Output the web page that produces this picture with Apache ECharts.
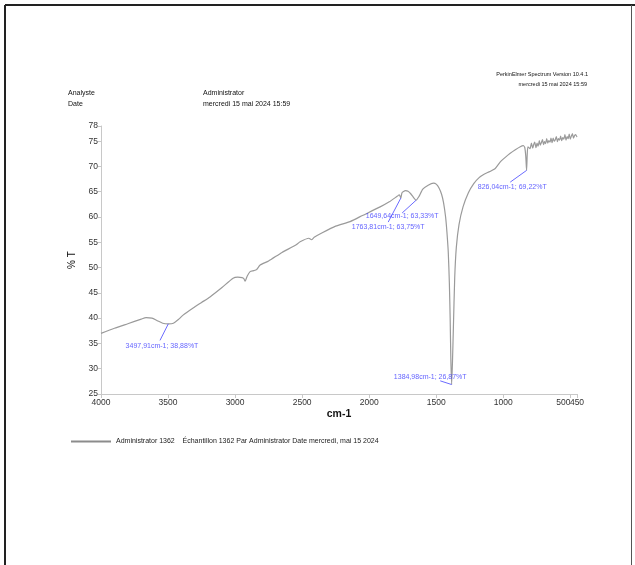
<!DOCTYPE html>
<html>
<head>
<meta charset="utf-8">
<title>Spectre IR</title>
<script src="https://cdn.jsdelivr.net/npm/echarts@6/dist/echarts.min.js"></script>
<style>
  html, body { margin: 0; padding: 0; background: #fff; }
  #chart { width: 635px; height: 565px; }
</style>
</head>
<body>
<div id="chart"></div>
<script>
// Wavenumber (cm-1) and transmittance (%T) of the recorded spectrum
const wavenumbers = [
  4000, 3900, 3800, 3700, 3664, 3620, 3580, 3540, 3497.91, 3460, 3420, 3388, 3313, 3250, 3187,
  3100, 3015, 2980, 2948, 2935, 2925, 2910, 2888, 2860, 2840, 2813, 2750, 2650, 2550, 2515,
  2450, 2430, 2410, 2350, 2250, 2142, 2050, 1918, 1850, 1791, 1775, 1763.81, 1755, 1730, 1710,
  1690, 1670, 1649.64, 1630, 1600, 1560, 1520, 1500, 1480, 1460, 1445, 1430, 1420, 1410, 1402,
  1396, 1391, 1384.98, 1378, 1372, 1362, 1350, 1330, 1300, 1260, 1220, 1180, 1140, 1100, 1060,
  1022, 985, 948, 910, 873, 851, 840, 832, 826.04, 821, 816, 800, 790, 780, 772,
  765, 756, 748, 740, 731, 724, 716, 707, 700, 692, 684, 676, 668, 660, 651,
  644, 636, 628, 620, 612, 604, 596, 588, 580, 572, 564, 556, 548, 540, 532,
  524, 516, 508, 500, 492, 484, 476, 468, 460, 450
];
const transmittance = [
  37.0, 38.0, 38.9, 39.8, 40.1, 40.0, 39.5, 39.0, 38.88, 39.0, 39.8, 40.6, 42.0, 43.1, 44.2,
  46.0, 47.9, 48.1, 48.0, 47.8, 47.3, 48.3, 49.2, 49.4, 49.6, 50.5, 51.3, 53.0, 54.4, 55.1,
  55.8, 55.5, 56.0, 56.9, 58.2, 59.1, 60.3, 62.0, 63.0, 64.1, 64.4, 63.75, 64.8, 65.2, 65.1,
  64.6, 63.9, 63.33, 64.0, 65.5, 66.3, 66.7, 66.5, 65.8, 64.5, 62.8, 60.0, 57.0, 53.0, 47.0,
  40.0, 32.0, 26.87, 32.0, 38.0, 48.0, 54.0, 58.5, 62.0, 64.8, 66.6, 67.8, 68.5, 69.0, 69.6,
  70.9, 71.8, 72.6, 73.3, 73.9, 74.1, 73.8, 72.0, 69.22, 72.5, 73.9, 73.5, 74.6, 73.6, 74.4,
  74.8, 73.7, 74.6, 74.0, 75.1, 74.2, 74.7, 75.3, 74.3, 74.9, 74.5, 75.5, 74.6, 75.1, 74.8,
  75.6, 74.7, 75.6, 75.0, 75.3, 75.9, 74.9, 75.5, 75.2, 76.0, 75.1, 75.7, 75.4, 76.3, 75.2,
  75.9, 75.5, 76.4, 75.4, 76.0, 76.5, 75.6, 76.1, 76.3, 75.8
];

// Axis tick labels
const xTicks = [4000, 3500, 3000, 2500, 2000, 1500, 1000, 500, 450];
const yTicks = [25, 30, 35, 40, 45, 50, 55, 60, 65, 70, 75, 78];

// Labelled peaks: position (cm-1), value (%T) and label text
const peakWavenumbers = [3497.91, 1763.81, 1649.64, 1384.98, 826.04];
const peakValues = [38.88, 63.75, 63.33, 26.87, 69.22];
const peakTexts = [
  '3497,91cm-1; 38,88%T',
  '1763,81cm-1; 63,75%T',
  '1649,64cm-1; 63,33%T',
  '1384,98cm-1; 26,87%T',
  '826,04cm-1; 69,22%T'
];
// Where each leader line ends (in axis units) and how its text sits there
const calloutEnds = [[3560, 35.6], [1858, 59.0], [1754, 60.8], [1470, 27.6], [948, 66.9]];
const calloutLabelStyle = [
  { position: 'bottom', distance: 2, offset: [2, 0] },
  { position: 'bottom', distance: 1, offset: [0, 0] },
  { position: 'bottom', distance: 0, offset: [0, 0] },
  { position: 'top', distance: 0, offset: [-10, 0] },
  { position: 'bottom', distance: 1, offset: [2, 0] }
];

const sans = '"Liberation Sans", Arial, sans-serif';
const blue = '#3a3aff';
const tickColor = '#c8c8c8';
const labelColor = '#333';

const spectrum = wavenumbers.map((w, i) => [w, transmittance[i]]);

// leader lines from each peak to its text
const leaderSeries = peakWavenumbers.map((w, i) => ({
  type: 'line',
  silent: true,
  symbol: 'none',
  z: 5,
  lineStyle: { color: '#6b6bff', width: 1 },
  data: [[w, peakValues[i]], calloutEnds[i]]
}));

// peak texts, placed at the free end of each leader line
const calloutTextSeries = {
  type: 'scatter',
  silent: true,
  symbolSize: 0,
  z: 6,
  data: calloutEnds.map((end, i) => ({
    value: end,
    label: Object.assign({
      show: true,
      formatter: peakTexts[i],
      color: blue,
      fontSize: 7,
      fontFamily: sans
    }, calloutLabelStyle[i])
  }))
};

const legendName = 'Administrator 1362    Échantillon 1362 Par Administrator Date mercredi, mai 15 2024';

// the last tick (450) sits right next to 500, so it is labelled on its own axis
const mainXLabels = xTicks.slice(0, -1);
const endXLabels = xTicks.slice(-1);

const chart = echarts.init(document.getElementById('chart'), null, { renderer: 'canvas' });

chart.setOption({
  animation: false,
  backgroundColor: '#ffffff',
  grid: { left: 101, right: 58, top: 126, bottom: 171, containLabel: false },
  legend: {
    left: 66,
    top: 433,
    itemWidth: 40,
    itemHeight: 10,
    itemGap: 6,
    textStyle: { fontSize: 7, fontFamily: sans, color: '#222' },
    data: [{ name: legendName, icon: 'path://M0,4 L38,4 L38,6 L0,6 Z' }]
  },
  xAxis: [
    {
      type: 'value',
      inverse: true,
      min: 450,
      max: 4000,
      name: 'cm-1',
      nameLocation: 'middle',
      nameGap: 15,
      nameTextStyle: { fontSize: 10.5, fontWeight: 'bold', fontFamily: sans, color: '#111' },
      axisLine: { show: true, lineStyle: { color: tickColor, width: 1 } },
      axisTick: { show: true, length: 4, customValues: xTicks, lineStyle: { color: tickColor } },
      axisLabel: {
        customValues: mainXLabels,
        hideOverlap: false,
        fontSize: 8.5,
        fontFamily: sans,
        color: labelColor,
        margin: 4,
        formatter: function (v) {
          return v === 500 ? '{l|500}' : String(v);
        },
        rich: {
          l: { fontSize: 8.5, fontFamily: sans, color: labelColor, padding: [0, 14, 0, 0] }
        }
      },
      splitLine: { show: false }
    },
    {
      type: 'value',
      inverse: true,
      min: 450,
      max: 4000,
      position: 'bottom',
      axisLine: { show: false },
      axisTick: { show: false },
      axisLabel: {
        customValues: endXLabels,
        showMinLabel: true,
        fontSize: 8.5,
        fontFamily: sans,
        color: labelColor,
        margin: 4,
        formatter: function (v) { return String(v); }
      },
      splitLine: { show: false }
    }
  ],
  yAxis: {
    type: 'value',
    min: 25,
    max: 78,
    name: '% T',
    nameLocation: 'middle',
    nameGap: 23,
    nameRotate: 90,
    nameTextStyle: { fontSize: 10, fontFamily: sans, color: '#111' },
    axisLine: { show: true, lineStyle: { color: tickColor, width: 1 } },
    axisTick: { show: true, length: 3, customValues: yTicks, lineStyle: { color: tickColor } },
    axisLabel: {
      customValues: yTicks,
      formatter: function (v) { return String(v); },
      fontSize: 8.5,
      fontFamily: sans,
      color: labelColor,
      margin: 3
    },
    splitLine: { show: false }
  },
  series: [
    {
      name: legendName,
      type: 'line',
      symbol: 'none',
      smooth: 0.2,
      z: 3,
      color: '#8c8c8c',
      lineStyle: { color: '#9a9a9a', width: 1.2 },
      data: spectrum
    },
    calloutTextSeries
  ].concat(leaderSeries),
  graphic: [
    // page frame
    { type: 'line', shape: { x1: 5, y1: 5, x2: 635, y2: 5 }, style: { stroke: '#222', lineWidth: 2 } },
    { type: 'line', shape: { x1: 5, y1: 5, x2: 5, y2: 565 }, style: { stroke: '#222', lineWidth: 2 } },
    { type: 'line', shape: { x1: 631.5, y1: 5, x2: 631.5, y2: 565 }, style: { stroke: '#555', lineWidth: 1 } },
    // report header
    { type: 'text', x: 68, y: 93, style: { text: 'Analyste', fontSize: 7, fontFamily: sans, fill: '#111', textVerticalAlign: 'middle' } },
    { type: 'text', x: 68, y: 104, style: { text: 'Date', fontSize: 7, fontFamily: sans, fill: '#111', textVerticalAlign: 'middle' } },
    { type: 'text', x: 203, y: 93, style: { text: 'Administrator', fontSize: 7, fontFamily: sans, fill: '#111', textVerticalAlign: 'middle' } },
    { type: 'text', x: 203, y: 104, style: { text: 'mercredi 15 mai 2024 15:59', fontSize: 7, fontFamily: sans, fill: '#111', textVerticalAlign: 'middle' } },
    { type: 'text', x: 588, y: 74, style: { text: 'PerkinElmer Spectrum Version 10.4.1', fontSize: 5.5, fontFamily: sans, fill: '#111', textAlign: 'right', textVerticalAlign: 'middle' } },
    { type: 'text', x: 587, y: 84, style: { text: 'mercredi 15 mai 2024 15:59', fontSize: 5.5, fontFamily: sans, fill: '#111', textAlign: 'right', textVerticalAlign: 'middle' } }
  ]
});
</script>
</body>
</html>
